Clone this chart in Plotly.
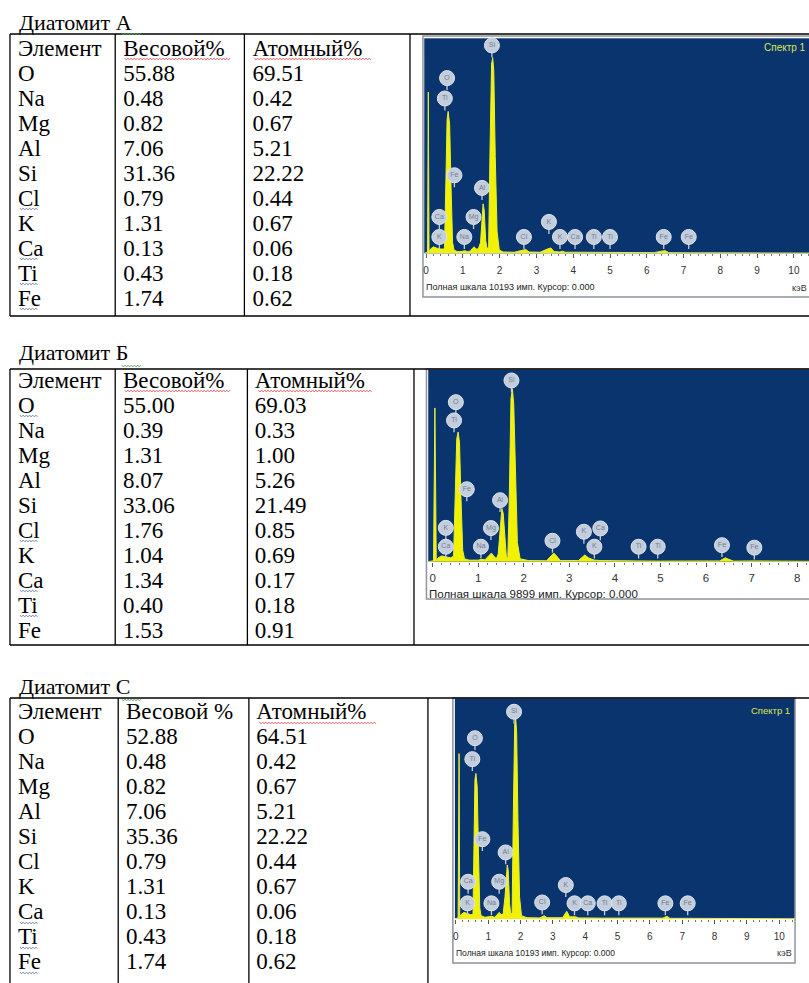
import plotly.graph_objects as go

W, H = 809, 983

# ---------------- data ----------------
ELEMENTS = ["O", "Na", "Mg", "Al", "Si", "Cl", "K", "Ca", "Ti", "Fe"]
HEAD_AB = ["Элемент", "Весовой%", "Атомный%"]
HEAD_C = ["Элемент", "Весовой %", "Атомный%"]
TITLES = ["Диатомит А", "Диатомит Б", "Диатомит С"]

WT_A = [55.88, 0.48, 0.82, 7.06, 31.36, 0.79, 1.31, 0.13, 0.43, 1.74]
AT_A = [69.51, 0.42, 0.67, 5.21, 22.22, 0.44, 0.67, 0.06, 0.18, 0.62]
WT_B = [55.00, 0.39, 1.31, 8.07, 33.06, 1.76, 1.04, 1.34, 0.40, 1.53]
AT_B = [69.03, 0.33, 1.00, 5.26, 21.49, 0.85, 0.69, 0.17, 0.18, 0.91]
WT_C = [52.88, 0.48, 0.82, 7.06, 35.36, 0.79, 1.31, 0.13, 0.43, 1.74]
AT_C = [64.51, 0.42, 0.67, 5.21, 22.22, 0.44, 0.67, 0.06, 0.18, 0.62]

FOOTERS = ["Полная шкала 10193 имп. Курсор: 0.000",
           "Полная шкала 9899 имп. Курсор: 0.000",
           "Полная шкала 10193 имп. Курсор: 0.000"]

# spectrum A (energy keV, relative counts)
SPEC_A_E = [-0.05, 0.04, 0.06, 0.08, 0.12, 0.2, 0.28, 0.36, 0.44, 0.5, 0.54, 0.57, 0.6, 0.64, 0.68,
            0.72, 0.76, 0.85, 0.95, 1.05, 1.12, 1.2, 1.27, 1.31, 1.35, 1.42, 1.48, 1.52, 1.55, 1.58,
            1.62, 1.66, 1.70, 1.74, 1.78, 1.81, 1.84, 1.88, 1.93, 1.99, 2.1, 2.4, 2.62, 2.71, 2.8,
            3.1, 3.3, 3.39, 3.48, 3.64, 3.7, 3.78, 4.0, 4.5, 5.0, 6.2, 6.4, 6.5, 6.6, 7.06, 7.2, 8.0, 10.5]
SPEC_A_I = [0.0, 0.005, 0.75, 0.005, 0.02, 0.03, 0.025, 0.02, 0.02, 0.02, 0.35, 0.62, 0.66, 0.6, 0.3,
            0.05, 0.015, 0.008, 0.008, 0.012, 0.008, 0.01, 0.025, 0.03, 0.02, 0.02, 0.05, 0.15, 0.23, 0.2,
            0.06, 0.02, 0.03, 0.5, 0.88, 0.91, 0.85, 0.45, 0.1, 0.015, 0.006, 0.005, 0.015, 0.018, 0.006,
            0.005, 0.02, 0.025, 0.008, 0.006, 0.01, 0.005, 0.005, 0.004, 0.004, 0.003, 0.01, 0.012, 0.003, 0.004, 0.002, 0.002, 0.001]

SPEC_B_E = [-0.1, 0.02, 0.05, 0.08, 0.12, 0.2, 0.3, 0.4, 0.46, 0.5, 0.53, 0.56, 0.59, 0.62, 0.66, 0.7,
            0.8, 1.0, 1.06, 1.15, 1.24, 1.29, 1.34, 1.4, 1.44, 1.48, 1.52, 1.55, 1.59, 1.62, 1.65, 1.68,
            1.72, 1.75, 1.78, 1.82, 1.86, 1.92, 2.1, 2.5, 2.6, 2.66, 2.72, 2.8, 3.2, 3.28, 3.34, 3.42,
            3.55, 3.7, 4.0, 4.5, 5.0, 6.3, 6.42, 6.52, 6.6, 7.06, 8.3]
SPEC_B_I = [0.0, 0.005, 0.80, 0.005, 0.02, 0.03, 0.025, 0.02, 0.03, 0.4, 0.64, 0.675, 0.62, 0.35, 0.06, 0.015,
            0.008, 0.008, 0.012, 0.01, 0.035, 0.045, 0.03, 0.015, 0.04, 0.16, 0.277, 0.25, 0.08, 0.02, 0.02, 0.3,
            0.85, 0.90, 0.82, 0.4, 0.1, 0.015, 0.006, 0.005, 0.03, 0.045, 0.03, 0.006, 0.006, 0.025, 0.035, 0.02,
            0.008, 0.006, 0.004, 0.004, 0.003, 0.004, 0.02, 0.012, 0.003, 0.004, 0.002]

SPEC_C_E = [-0.05, 0.07, 0.10, 0.12, 0.16, 0.25, 0.35, 0.45, 0.53, 0.56, 0.59, 0.62, 0.66, 0.7, 0.74,
            0.78, 0.9, 1.1, 1.2, 1.28, 1.34, 1.4, 1.46, 1.52, 1.56, 1.59, 1.62, 1.66, 1.7, 1.74, 1.78,
            1.82, 1.85, 1.88, 1.92, 1.97, 2.03, 2.2, 2.6, 2.73, 2.82, 3.3, 3.43, 3.52, 3.7, 3.8, 4.5,
            5.0, 6.4, 6.53, 6.62, 7.2, 10.5]
SPEC_C_I = [0.0, 0.005, 0.75, 0.005, 0.02, 0.03, 0.025, 0.02, 0.02, 0.35, 0.63, 0.66, 0.6, 0.3, 0.05,
            0.015, 0.008, 0.012, 0.008, 0.02, 0.03, 0.02, 0.02, 0.1, 0.2, 0.245, 0.22, 0.07, 0.02, 0.03, 0.5,
            0.88, 0.91, 0.85, 0.45, 0.1, 0.015, 0.006, 0.005, 0.015, 0.006, 0.006, 0.035, 0.01, 0.01, 0.005, 0.004,
            0.004, 0.004, 0.012, 0.003, 0.003, 0.001]

# peak labels (element, energy, label height)
LBL_A_EL = ["Ca", "K", "O", "Ti", "Fe", "Na", "Mg", "Al", "Si", "Cl", "K", "K", "Ca", "Ti", "Ti", "Fe", "Fe"]
LBL_A_E = [0.36, 0.36, 0.57, 0.51, 0.77, 1.04, 1.29, 1.52, 1.79, 2.66, 3.34, 3.64, 4.05, 4.56, 5.0, 6.46, 7.14]
LBL_A_Y = [0.169, 0.076, 0.815, 0.72, 0.363, 0.076, 0.169, 0.304, 0.967, 0.076, 0.146, 0.076, 0.076, 0.076, 0.076, 0.076, 0.076]

LBL_B_EL = ["K", "Ca", "O", "Ti", "Fe", "Na", "Mg", "Al", "Si", "Cl", "K", "Ca", "K", "Ti", "Ti", "Fe", "Fe"]
LBL_B_E = [0.29, 0.29, 0.51, 0.47, 0.75, 1.06, 1.28, 1.48, 1.73, 2.63, 3.32, 3.68, 3.55, 4.52, 4.94, 6.35, 7.06]
LBL_B_Y = [0.176, 0.078, 0.83, 0.735, 0.377, 0.078, 0.175, 0.32, 0.943, 0.109, 0.156, 0.173, 0.078, 0.078, 0.078, 0.086, 0.073]

LBL_C_EL = ["Ca", "K", "O", "Ti", "Fe", "Na", "Mg", "Al", "Si", "Cl", "K", "K", "Ca", "Ti", "Ti", "Fe", "Fe"]
LBL_C_E = [0.38, 0.36, 0.59, 0.51, 0.82, 1.10, 1.34, 1.54, 1.80, 2.67, 3.40, 3.67, 4.08, 4.60, 5.04, 6.48, 7.17]
LBL_C_Y = [0.169, 0.071, 0.82, 0.725, 0.362, 0.071, 0.169, 0.302, 0.94, 0.075, 0.154, 0.071, 0.071, 0.071, 0.071, 0.071, 0.071]

# ---------------- helpers ----------------
def px(x):
    return x / W


def py(y):
    return 1 - y / H


SERIF = "Liberation Serif"
SANS = "Liberation Sans"
NAVY = "#0a346e"
BORDER = "black"
FRAME = "#8d949d"

fig = go.Figure()

# ---------- tables ----------
tables = [
    dict(x0=8, x1=409, top=31, bot=316, widths=[105.5, 129.5, 166], head=HEAD_AB, wt=WT_A, at=AT_A),
    dict(x0=8, x1=413, top=363, bot=645, widths=[105.5, 132.5, 167], head=HEAD_AB, wt=WT_B, at=AT_B),
    dict(x0=8, x1=427, top=694, bot=983, widths=[108.5, 131, 179.5], head=HEAD_C, wt=WT_C, at=AT_C),
]
tfont = dict(family=SERIF, size=23, color="black")
for t in tables:
    fig.add_trace(go.Table(
        domain=dict(x=[px(t["x0"]), px(t["x1"])], y=[py(t["bot"]), py(t["top"])]),
        columnwidth=t["widths"],
        header=dict(values=t["head"], height=25, align="left", fill_color="rgba(0,0,0,0)",
                    line=dict(width=0, color="white"), font=tfont),
        cells=dict(values=[ELEMENTS, [f"{v:.2f}" for v in t["wt"]], [f"{v:.2f}" for v in t["at"]]],
                   height=25, align="left", fill_color="rgba(0,0,0,0)",
                   line=dict(width=0, color="white"), font=tfont),
    ))

# ---------- spectra ----------
panels = [
    dict(E=SPEC_A_E, I=SPEC_A_I, le=LBL_A_EL, lx=LBL_A_E, ly=LBL_A_Y,
         xd=[px(423.3), 1.0], yd=[py(253.3), py(38.3)], rng=[-0.05, 10.41], fs=10, sd=4, stem=0.056),
    dict(E=SPEC_B_E, I=SPEC_B_I, le=LBL_B_EL, lx=LBL_B_E, ly=LBL_B_Y,
         xd=[px(427.3), 1.0], yd=[py(561.7), py(369.5)], rng=[-0.096, 8.26], fs=11.5, sd=1, stem=0.062),
    dict(E=SPEC_C_E, I=SPEC_C_I, le=LBL_C_EL, lx=LBL_C_E, ly=LBL_C_Y,
         xd=[px(454), px(795)], yd=[py(919), py(698.5)], rng=[-0.03, 10.49], fs=10, sd=4, stem=0.054),
]

layout_axes = {}
for i, p in enumerate(panels, start=1):
    xa = "x" if i == 1 else f"x{i}"
    ya = "y" if i == 1 else f"y{i}"
    fig.add_trace(go.Scatter(
        x=p["E"], y=p["I"], mode="lines", fill="tozeroy",
        line=dict(color="#e4f03a", width=1), fillcolor="#f2f200",
        xaxis=xa, yaxis=ya, hoverinfo="skip", showlegend=False))
    n = len(p["le"])
    fig.add_trace(go.Scatter(
        x=p["lx"], y=p["ly"], mode="markers+text", text=p["le"],
        textposition="middle center",
        textfont=dict(family=SANS, size=7, color="#6f7f95"),
        marker=dict(size=15, color="#c3cddb", line=dict(width=1, color="#dde4ee")),
        error_y=dict(type="data", symmetric=False, array=[0] * n, arrayminus=[p["stem"]] * n,
                     color="#c3cddb", thickness=1.3, width=0),
        cliponaxis=False, xaxis=xa, yaxis=ya, hoverinfo="skip", showlegend=False))
    xkey = "xaxis" if i == 1 else f"xaxis{i}"
    ykey = "yaxis" if i == 1 else f"yaxis{i}"
    layout_axes[xkey] = dict(
        domain=p["xd"], range=p["rng"], anchor=ya, showgrid=False, zeroline=False,
        showline=False, ticks="outside", ticklen=4, tickwidth=1, tickcolor="#555",
        tick0=0, dtick=1, ticklabelstandoff=p["sd"],
        minor=dict(ticks="outside", ticklen=2, dtick=0.2, tickcolor="#777", showgrid=False),
        tickfont=dict(family=SANS, size=p["fs"], color="#333"), fixedrange=True)
    layout_axes[ykey] = dict(
        domain=p["yd"], range=[0, 1], anchor=xa, visible=False, fixedrange=True)

# ---------- shapes: table borders, image frames, spell-check squiggles ----------
shapes = []


def line(x0, y0, x1, y1, color=BORDER, width=1.3):
    shapes.append(dict(type="line", xref="paper", yref="paper",
                       x0=px(x0), y0=py(y0), x1=px(x1), y1=py(y1),
                       line=dict(color=color, width=width), layer="above"))


def squiggle(x0, x1, y, color):
    pts = []
    x = x0
    k = 0
    while x <= x1:
        yy = y + (1.0 if k % 2 else -1.0)
        pts.append(f"{px(x):.5f},{py(yy):.5f}")
        x += 1.6
        k += 1
    path = "M" + " L".join(pts)
    shapes.append(dict(type="path", xref="paper", yref="paper", path=path,
                       line=dict(color=color, width=0.8), layer="above"))


# image frames
for (fx0, fy0, fx1, fy1) in [(422, 36, 812, 297), (425.5, 369, 812, 599), (452, 698, 795, 963)]:
    shapes.append(dict(type="rect", xref="paper", yref="paper",
                       x0=px(fx0), y0=py(fy0), x1=px(fx1), y1=py(fy1),
                       line=dict(color=FRAME, width=1.5), fillcolor="rgba(0,0,0,0)", layer="below"))

# table A
line(8, 34, 812, 34)
line(8, 316, 812, 316)
for x in [8, 113.5, 243, 409]:
    line(x, 34, x, 316)
# table B
line(8, 369, 812, 369)
line(8, 645, 812, 645)
for x in [8, 113.5, 246, 413]:
    line(x, 369, x, 645)
# table C
line(8, 698, 812, 698)
for x in [8, 116.5, 247.5, 427]:
    line(x, 698, x, 990)

RED = "#e0585a"
GREEN = "#5aa05a"
BLUE = "#7080b0"
# header squiggles
squiggle(123, 230, 59, RED)
squiggle(253, 370, 59, RED)
squiggle(123, 230, 391, RED)
squiggle(257, 372, 391, RED)
squiggle(258, 375, 723, RED)
# title squiggles
squiggle(120, 140, 34, GREEN)
squiggle(120, 140, 366, GREEN)
squiggle(120, 140, 700, GREEN)
# element squiggles
for yy in [209, 259, 284, 309]:
    squiggle(18, 36, yy, BLUE)
for yy in [416, 541, 591, 616]:
    squiggle(18, 36, yy, BLUE)
for yy in [923, 948, 973]:
    squiggle(18, 36, yy, BLUE)

# ---------- annotations ----------
ann = []


def text(x, y, s, size, color="black", family=SERIF, xanchor="left"):
    ann.append(dict(xref="paper", yref="paper", x=px(x), y=py(y), text=s, showarrow=False,
                    xanchor=xanchor, yanchor="middle", font=dict(family=family, size=size, color=color)))


text(15, 22, TITLES[0], 22)
text(15, 352, TITLES[1], 22)
text(15, 686, TITLES[2], 22)

text(423, 287, FOOTERS[0], 9, "#222", SANS)
text(426, 594, FOOTERS[1], 11.5, "#222", SANS)
text(453, 953, FOOTERS[2], 8.5, "#222", SANS)

text(809, 288, "кэВ", 9, "#333", SANS, "right")
text(794, 953, "кэВ", 9, "#333", SANS, "right")

text(808, 47, "Спектр 1", 10, "#dfe84c", SANS, "right")
text(792, 710, "Спектр 1", 9.5, "#dfe84c", SANS, "right")

fig.update_layout(
    width=W, height=H, autosize=False,
    margin=dict(l=0, r=0, t=0, b=0),
    paper_bgcolor="white", plot_bgcolor=NAVY,
    showlegend=False, shapes=shapes, annotations=ann,
    **layout_axes,
)

fig.write_html("out.html")
